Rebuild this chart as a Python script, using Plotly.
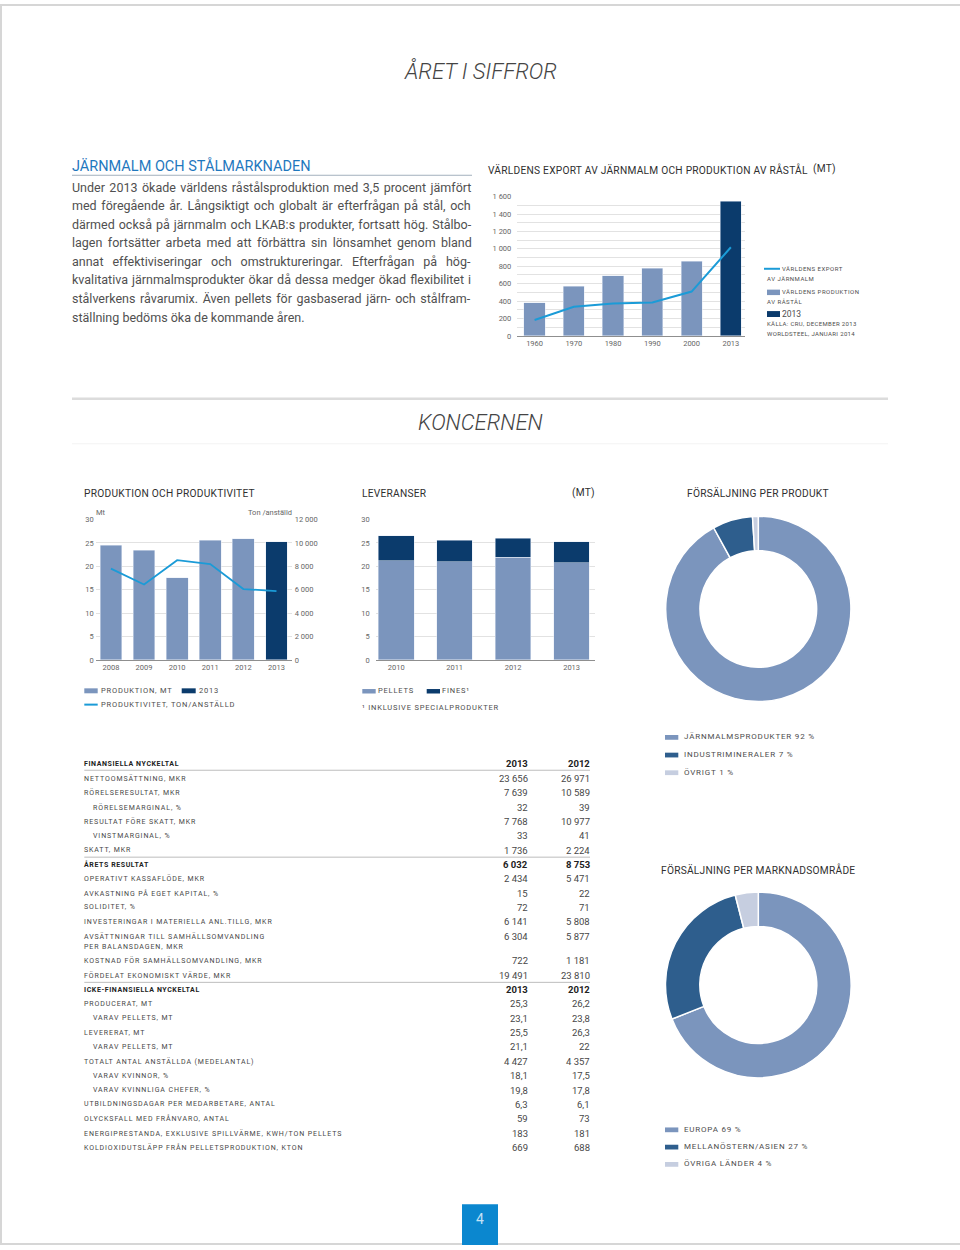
import plotly.graph_objects as go

W, H = 960, 1250
FONT = "Roboto, 'Open Sans', sans-serif"

# ---------------- data ----------------
page_title = "ÅRET I SIFFROR"
section_title = "KONCERNEN"

market_heading = "JÄRNMALM OCH STÅLMARKNADEN"
market_text = [
    "Under 2013 ökade världens råstålsproduktion med 3,5 procent jämfört",
    "med föregående år. Långsiktigt och globalt är efterfrågan på stål, och",
    "därmed också på järnmalm och LKAB:s produkter, fortsatt hög. Stålbo-",
    "lagen fortsätter arbeta med att förbättra sin lönsamhet genom bland",
    "annat effektiviseringar och omstruktureringar. Efterfrågan på hög-",
    "kvalitativa järnmalmsprodukter ökar då dessa medger ökad flexibilitet i",
    "stålverkens råvarumix. Även pellets för gasbaserad järn- och stålfram-",
    "ställning bedöms öka de kommande åren.",
]

export_title = "VÄRLDENS EXPORT AV JÄRNMALM OCH PRODUKTION AV RÅSTÅL"
export_unit = "(MT)"
export_years = ["1960", "1970", "1980", "1990", "2000", "2013"]
steel_production = [380, 570, 690, 775, 855, 1546]
ore_export = [182, 334, 372, 383, 509, 1018]
export_legend_line = ["VÄRLDENS EXPORT", "AV JÄRNMALM"]
export_legend_bar = ["VÄRLDENS PRODUKTION", "AV RÅSTÅL"]
export_legend_year = "2013"
export_source = ["KÄLLA: CRU, DECEMBER 2013", "WORLDSTEEL, JANUARI 2014"]

prod_title = "PRODUKTION OCH PRODUKTIVITET"
prod_years = ["2008", "2009", "2010", "2011", "2012", "2013"]
production_mt = [24.5, 23.4, 17.6, 25.6, 25.9, 25.3]
productivity_t = [7810, 6450, 8530, 8190, 6060, 5890]
prod_legend = ["PRODUKTION, MT", "2013", "PRODUKTIVITET, TON/ANSTÄLLD"]

deliv_title = "LEVERANSER"
deliv_unit = "(MT)"
deliv_years = ["2010", "2011", "2012", "2013"]
deliv_pellets = [21.2, 21.0, 22.0, 20.8]
deliv_fines = [5.3, 4.6, 4.0, 4.5]
deliv_legend = ["PELLETS", "FINES¹"]
deliv_note = "¹ INKLUSIVE SPECIALPRODUKTER"

product_title = "FÖRSÄLJNING PER PRODUKT"
product_labels = ["JÄRNMALMSPRODUKTER", "INDUSTRIMINERALER", "ÖVRIGT"]
product_share = [92, 7, 1]

market_title = "FÖRSÄLJNING PER MARKNADSOMRÅDE"
market_labels = ["EUROPA", "MELLANÖSTERN/ASIEN", "ÖVRIGA LÄNDER"]
market_share = [69, 27, 4]

table_years = ["2013", "2012"]
table_labels = [
    "FINANSIELLA NYCKELTAL",
    "NETTOOMSÄTTNING, MKR",
    "RÖRELSERESULTAT, MKR",
    "RÖRELSEMARGINAL, %",
    "RESULTAT FÖRE SKATT, MKR",
    "VINSTMARGINAL, %",
    "SKATT, MKR",
    "ÅRETS RESULTAT",
    "OPERATIVT KASSAFLÖDE, MKR",
    "AVKASTNING PÅ EGET KAPITAL, %",
    "SOLIDITET, %",
    "INVESTERINGAR I MATERIELLA ANL.TILLG, MKR",
    "AVSÄTTNINGAR TILL SAMHÄLLSOMVANDLING\nPER BALANSDAGEN, MKR",
    "KOSTNAD FÖR SAMHÄLLSOMVANDLING, MKR",
    "FÖRDELAT EKONOMISKT VÄRDE, MKR",
    "ICKE-FINANSIELLA NYCKELTAL",
    "PRODUCERAT, MT",
    "VARAV PELLETS, MT",
    "LEVERERAT, MT",
    "VARAV PELLETS, MT",
    "TOTALT ANTAL ANSTÄLLDA (MEDELANTAL)",
    "VARAV KVINNOR, %",
    "VARAV KVINNLIGA CHEFER, %",
    "UTBILDNINGSDAGAR PER MEDARBETARE, ANTAL",
    "OLYCKSFALL MED FRÅNVARO, ANTAL",
    "ENERGIPRESTANDA, EXKLUSIVE SPILLVÄRME, KWH/TON PELLETS",
    "KOLDIOXIDUTSLÄPP FRÅN PELLETSPRODUKTION, KTON",
]
table_2013 = [None, 23656, 7639, 32, 7768, 33, 1736, 6032, 2434, 15, 72, 6141, 6304,
              722, 19491, None, 25.3, 23.1, 25.5, 21.1, 4427, 18.1, 19.8, 6.3, 59, 183, 669]
table_2012 = [None, 26971, 10589, 39, 10977, 41, 2224, 8753, 5471, 22, 71, 5808, 5877,
              1181, 23810, None, 26.2, 23.8, 26.3, 22, 4357, 17.5, 17.8, 6.1, 73, 181, 688]
# row styling (kept apart from data)
header_rows = {0, 15}
bold_rows = {0, 7, 15}
indent_rows = {3, 5, 17, 19, 21, 22}
rule_above = {7, 15}
rule_below = {0}
page_number = "4"

# ---------------- styles ----------------
LIGHT = "#7b95bd"
DARK = "#0b3b6c"
MID = "#2e5e8d"
PALE = "#c6cee0"
CYAN = "#1b9bd7"
GRID = "#e2e2e2"
AXIS = "#8f8f8f"
TEXT = "#4d4d4d"
HEAD = "#2f2f2f"
TICK = "#666666"
BLUEHEAD = "#1f78be"

# approximate Roboto advance widths (em) used to justify the paragraph
_LW = dict(zip("abcdefghijklmnopqrstuvwxyz",
               [.544, .561, .523, .564, .530, .347, .561, .551, .243, .239, .507, .243, .876,
                .552, .570, .561, .568, .338, .516, .327, .551, .484, .751, .496, .473, .496]))
_UW = dict(zip("ABCDEFGHIJKLMNOPQRSTUVWXYZ",
               [.652, .622, .651, .656, .568, .553, .681, .713, .272, .552, .627, .538, .873,
                .713, .688, .631, .688, .616, .593, .597, .648, .636, .887, .627, .601, .599]))
_PW = {" ": .248, ",": .197, ".": .264, ":": .242, "-": .276, "/": .41}
_ACC = {"å": "a", "ä": "a", "ö": "o", "Å": "A", "Ä": "A", "Ö": "O", "é": "e"}


def est_width(s, size):
    tot = 0.0
    for c in s:
        c = _ACC.get(c, c)
        if c in _LW:
            tot += _LW[c]
        elif c in _UW:
            tot += _UW[c]
        elif c.isdigit():
            tot += .562
        else:
            tot += _PW.get(c, .5)
    return tot * size


def xdom(a, b):
    return [a / W, b / W]


def ydom(top, bottom):
    return [1 - bottom / H, 1 - top / H]


def sv(v):
    if isinstance(v, float) and not v.is_integer():
        return f"{v:.1f}".replace(".", ",")
    return f"{int(v):,}".replace(",", " ")


ann = []
shapes = []


def text(x, y, s, size, color=TEXT, align="left", ls=None, ws=None, weight=None, style=None):
    css = []
    if ls:
        css.append(f"letter-spacing:{ls}px")
    if ws is not None:
        css.append(f"word-spacing:{ws:.2f}px")
    if css:
        s = f'<span style="{";".join(css)}">{s}</span>'
    f = dict(family=FONT, size=size, color=color)
    if weight:
        f["weight"] = weight
    if style:
        f["style"] = style
    ann.append(dict(x=x / W, y=1 - y / H, xref="paper", yref="paper", text=s,
                    showarrow=False, xanchor=align, yanchor="middle", font=f,
                    borderpad=0, borderwidth=0))


def hline(x0, y0, x1, y1, color, width):
    shapes.append(dict(type="line", xref="paper", yref="paper", x0=x0 / W, y0=1 - y0 / H,
                       x1=x1 / W, y1=1 - y1 / H, line=dict(color=color, width=width)))


def box(x0, y0, x1, y1, fill):
    shapes.append(dict(type="rect", xref="paper", yref="paper", x0=x0 / W, y0=1 - y0 / H,
                       x1=x1 / W, y1=1 - y1 / H, fillcolor=fill, line=dict(width=0)))


def year_colors(years):
    return [DARK if y == "2013" else LIGHT for y in years]


fig = go.Figure()

# chart A: export / production
fig.add_trace(go.Bar(x=export_years, y=steel_production, marker=dict(color=year_colors(export_years)),
                     width=0.54, xaxis="x", yaxis="y", hoverinfo="skip"))
fig.add_trace(go.Scatter(x=export_years, y=ore_export, mode="lines", line=dict(color=CYAN, width=2),
                         xaxis="x", yaxis="y", hoverinfo="skip"))

# chart B: production & productivity
fig.add_trace(go.Bar(x=prod_years, y=production_mt, marker=dict(color=year_colors(prod_years)),
                     width=0.66, xaxis="x2", yaxis="y2", hoverinfo="skip"))
fig.add_trace(go.Scatter(x=prod_years, y=productivity_t, mode="lines", line=dict(color=CYAN, width=1.8),
                         xaxis="x2", yaxis="y3", hoverinfo="skip"))

# chart C: deliveries
fig.add_trace(go.Bar(x=deliv_years, y=deliv_pellets, marker=dict(color=LIGHT), width=0.61,
                     xaxis="x3", yaxis="y4", hoverinfo="skip"))
fig.add_trace(go.Bar(x=deliv_years, y=deliv_fines, marker=dict(color=DARK), width=0.61,
                     xaxis="x3", yaxis="y4", hoverinfo="skip"))

# donuts
fig.add_trace(go.Pie(labels=product_labels, values=product_share, hole=0.63, sort=False,
                     direction="clockwise", rotation=0, textinfo="none", hoverinfo="skip",
                     marker=dict(colors=[LIGHT, MID, PALE], line=dict(color="white", width=1.5)),
                     domain=dict(x=xdom(665, 851.6), y=ydom(516, 702.6))))
fig.add_trace(go.Pie(labels=market_labels, values=market_share, hole=0.63, sort=False,
                     direction="clockwise", rotation=0, textinfo="none", hoverinfo="skip",
                     marker=dict(colors=[LIGHT, MID, PALE], line=dict(color="white", width=1.5)),
                     domain=dict(x=xdom(664.8, 851.8), y=ydom(894.5, 1081.5))))

tickfont = dict(family=FONT, size=7.5, color=TICK)
xcommon = dict(type="category", showgrid=False, showline=True, linecolor=AXIS, linewidth=1,
               ticks="", tickfont=tickfont, fixedrange=True, zeroline=False)
ycommon = dict(showgrid=True, gridcolor=GRID, gridwidth=1, zeroline=False, ticks="",
               tickfont=tickfont, fixedrange=True, showline=False, separatethousands=True,
               tickformat=",d")

fig.update_layout(
    width=W, height=H, margin=dict(l=0, r=0, t=0, b=0),
    paper_bgcolor="white", plot_bgcolor="rgba(0,0,0,0)",
    showlegend=False, barmode="stack", separators=", ",
    font=dict(family=FONT, color=TEXT),
    xaxis=dict(domain=xdom(517.3, 745), anchor="y", range=[-0.44, 5.36], **xcommon),
    yaxis=dict(domain=ydom(194, 334.3), anchor="x", range=[0, 1600], tick0=0, dtick=200,
               ticklabelstandoff=5,
               minor=dict(dtick=100, tick0=0, showgrid=True, gridcolor=GRID, gridwidth=1),
               **ycommon),
    xaxis2=dict(domain=xdom(95.7, 291.7), anchor="y2", range=[-0.46, 5.46], **xcommon),
    yaxis2=dict(domain=ydom(519.3, 660.7), anchor="x2", range=[0, 30], tick0=0, dtick=5,
                ticklabelstandoff=1, **ycommon),
    yaxis3=dict(overlaying="y2", side="right", anchor="x2", range=[0, 12000], tick0=0, dtick=2000,
                showgrid=False, zeroline=False, ticks="", tickfont=tickfont, fixedrange=True,
                separatethousands=True, tickformat=",d", ticklabelstandoff=2),
    xaxis3=dict(domain=xdom(375.7, 595), anchor="y4", range=[-0.35, 3.4], **xcommon),
    yaxis4=dict(domain=ydom(519.3, 660.7), anchor="x3", range=[0, 30], tick0=0, dtick=5,
                ticklabelstandoff=5, **ycommon),
)

# ---------------- page decorations ----------------
hline(0, 1, 960, 1, "#d6d6d6", 2)
hline(1, 0, 1, 1250, "#d6d6d6", 2)
hline(0, 1249, 960, 1249, "#d6d6d6", 2)
hline(72, 397.5, 888, 397.5, "#dcdcdc", 2.5)
hline(72, 443, 888, 443, "#f3f3f3", 1)
box(462, 1209, 498, 1250, "#0b87cf")
text(480, 1224, page_number, 14, "#c4e2f6", "center")

text(480, 67, page_title, 22, "#444444", "center", weight=300, style="italic")
text(480, 422, section_title, 22, "#444444", "center", weight=300, style="italic")

# left text block
PSIZE = 12.5
text(72, 163, market_heading, 14.5, BLUEHEAD)
hline(72, 172.5, 472, 172.5, "#a3b0bd", 1)
for i, line in enumerate(market_text):
    ws = None
    if i < len(market_text) - 1 and line.count(" "):
        ws = (399.5 - est_width(line, PSIZE)) / line.count(" ")
    text(72, 184.5 + 18.7 * i, line, PSIZE, "#505050", ws=ws)

# chart A texts & legend
text(488, 166.5, export_title, 10.2, HEAD, ls=0.25)
text(813, 166.5, export_unit, 10.2, HEAD, ls=0.25)
hline(764, 266.7, 780, 266.7, CYAN, 2)
text(782, 266.2, export_legend_line[0], 6, TEXT, ls=0.5)
text(767, 276, export_legend_line[1], 6, TEXT, ls=0.5)
box(767, 287.7, 780, 293.2, LIGHT)
text(782, 290, export_legend_bar[0], 6, TEXT, ls=0.5)
text(767, 299.8, export_legend_bar[1], 6, TEXT, ls=0.5)
box(767, 309.3, 780, 315.3, DARK)
text(782, 312.3, export_legend_year, 8.5, TEXT)
text(767, 322.2, export_source[0], 6, TEXT, ls=0.35)
text(767, 331.8, export_source[1], 6, TEXT, ls=0.35)

# chart B texts & legend
text(84, 492.8, prod_title, 10.2, HEAD, ls=0.25)
text(95.7, 512, "Mt", 7.5, TICK)
text(291.7, 512, "Ton /anställd", 7.5, TICK, "right")
box(84.3, 689.3, 97.7, 694.3, LIGHT)
text(100.5, 691.6, prod_legend[0], 7.5, TEXT, ls=0.8)
box(181.7, 689.3, 195.7, 694.3, DARK)
text(199, 691.6, prod_legend[1], 7.5, TEXT, ls=0.8)
hline(84.3, 705.7, 97.7, 705.7, CYAN, 2)
text(100.5, 705.3, prod_legend[2], 7.5, TEXT, ls=0.8)

# chart C texts & legend
text(362.3, 492.8, deliv_title, 10.2, HEAD, ls=0.25)
text(594.5, 492.8, deliv_unit, 10.2, HEAD, "right", ls=0.25)
box(362.3, 690, 375.7, 694.5, LIGHT)
text(378.3, 691.6, deliv_legend[0], 7.5, TEXT, ls=0.8)
box(426.7, 690, 440, 694.5, DARK)
text(442.3, 691.6, deliv_legend[1], 7.5, TEXT, ls=0.8)
text(362.3, 709, deliv_note, 7.5, TEXT, ls=0.8)

# donut titles & legends
text(758.4, 492.8, product_title, 10.2, HEAD, "center", ls=0.25)
for i, (lab, val) in enumerate(zip(product_labels, product_share)):
    yy = 738.7 + 17.8 * i
    box(665, yy - 2.4, 678.3, yy + 2.4, [LIGHT, MID, PALE][i])
    text(684, yy - 0.4, f"{lab} {val} %", 8, TEXT, ls=0.8)

text(758.4, 872.2, market_title, 10.2, HEAD, "center", ls=0.25)
for i, (lab, val) in enumerate(zip(market_labels, market_share)):
    yy = 1134 + 17.4 * i
    box(665, yy - 2.4, 678.3, yy + 2.4, [LIGHT, MID, PALE][i])
    text(684, yy - 0.4, f"{lab} {val} %", 8, TEXT, ls=0.8)

# ---------------- key figures table ----------------
TX0, C13, C12 = 84.3, 527.5, 590
y = 765.5
for i, lab in enumerate(table_labels):
    bold = i in bold_rows
    col = "#222222" if bold else "#474747"
    x0 = TX0 + (8.5 if i in indent_rows else 0)
    parts = lab.split("\n")
    for k, p in enumerate(parts):
        t = f"<b>{p}</b>" if bold else p
        text(x0, y + 11 * k, t, 7, col, ls=0.9 if not bold else 0.6)
    if i in header_rows:
        v13, v12 = table_years
    else:
        v13, v12 = sv(table_2013[i]), sv(table_2012[i])
    if bold:
        v13, v12 = f"<b>{v13}</b>", f"<b>{v12}</b>"
    text(C13, y, v13, 9.5, col, "right")
    text(C12, y, v12, 9.5, col, "right")
    if i in rule_above:
        hline(TX0, y - 7.3, C12, y - 7.3, "#bdbdbd", 1)
    if i in rule_below:
        hline(TX0, y + 6.3, C12, y + 6.3, "#bdbdbd", 1)
    y += 14.45 + (10.5 * (len(parts) - 1))

fig.update_layout(annotations=ann, shapes=shapes)
fig.write_html("out.html", config={"displayModeBar": False, "staticPlot": True},
               post_script="document.body.style.margin='0';document.body.style.padding='0';")
